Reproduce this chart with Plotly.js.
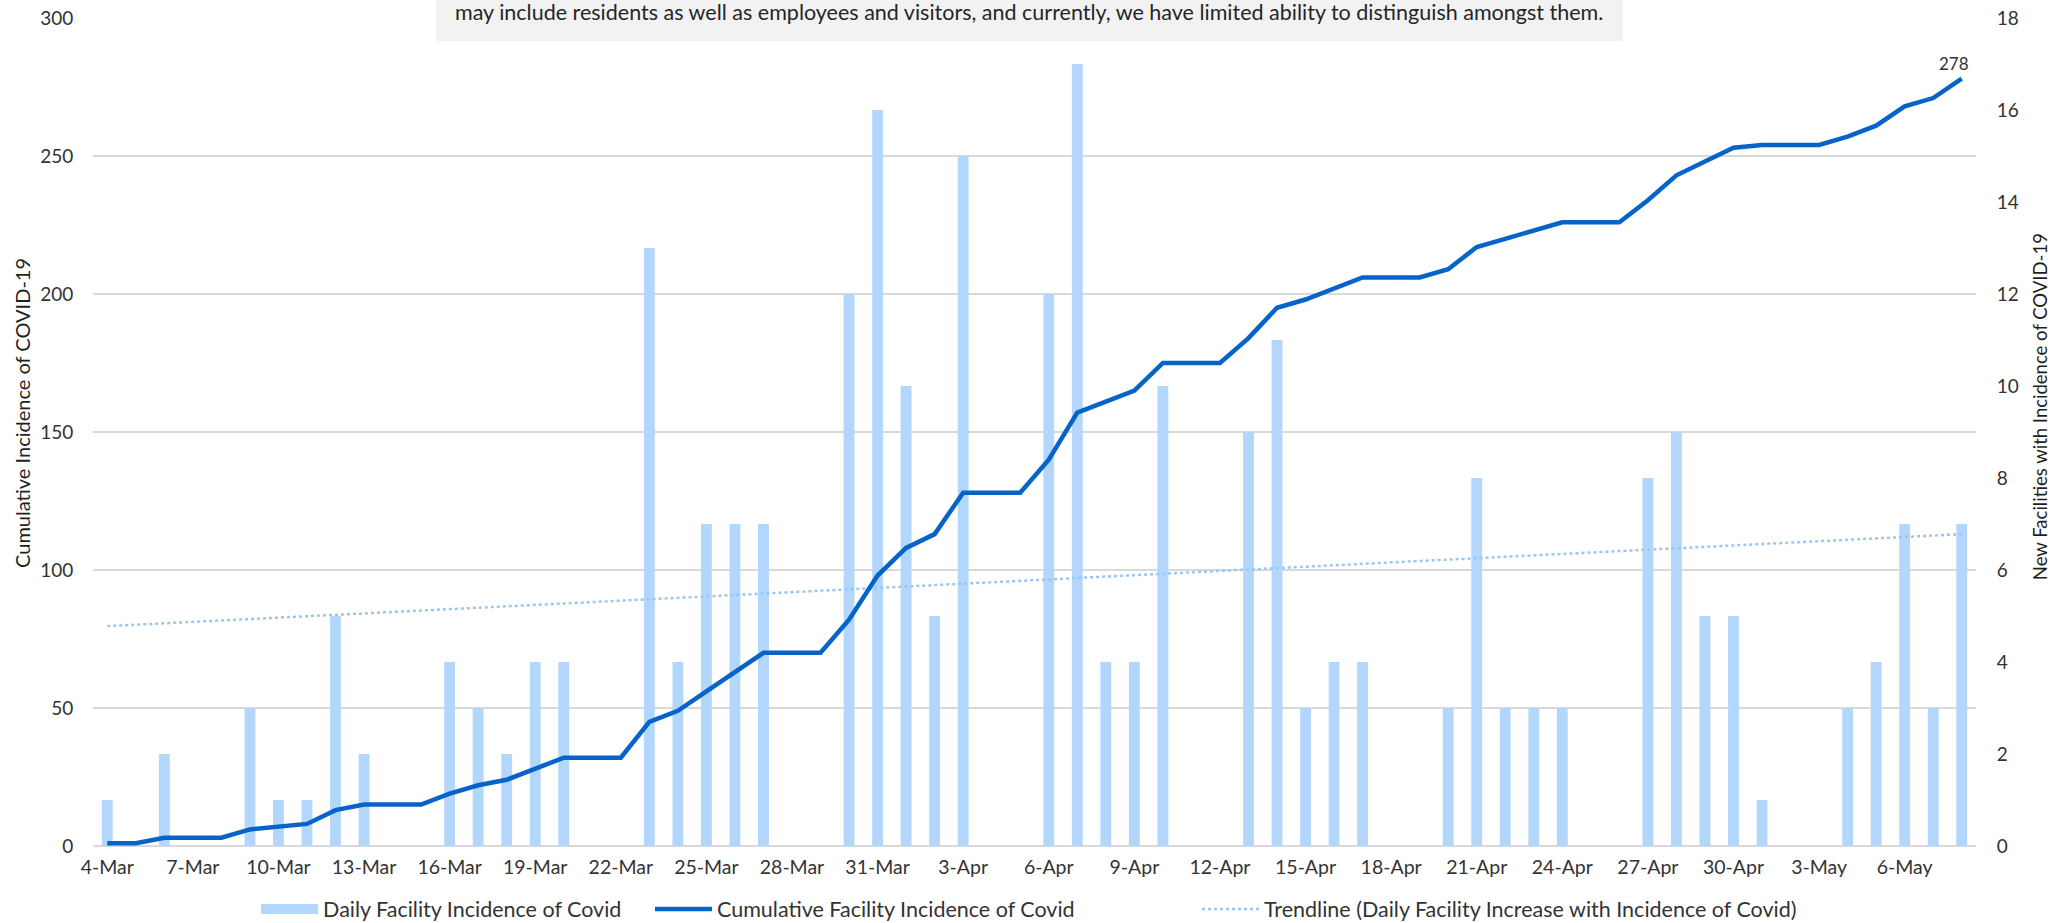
<!DOCTYPE html>
<html>
<head>
<meta charset="utf-8">
<script src="https://cdn.plot.ly/plotly-3.0.1.min.js"></script>
<style>
  html, body { margin: 0; padding: 0; background: #ffffff; }
  #chart { width: 2066px; height: 923px; }
</style>
</head>
<body>
<div id="chart"></div>
<script>
// ---- Data ----
const dates = [
  "4-Mar","5-Mar","6-Mar","7-Mar","8-Mar","9-Mar","10-Mar","11-Mar","12-Mar","13-Mar",
  "14-Mar","15-Mar","16-Mar","17-Mar","18-Mar","19-Mar","20-Mar","21-Mar","22-Mar","23-Mar",
  "24-Mar","25-Mar","26-Mar","27-Mar","28-Mar","29-Mar","30-Mar","31-Mar",
  "1-Apr","2-Apr","3-Apr","4-Apr","5-Apr","6-Apr","7-Apr","8-Apr","9-Apr","10-Apr",
  "11-Apr","12-Apr","13-Apr","14-Apr","15-Apr","16-Apr","17-Apr","18-Apr","19-Apr","20-Apr",
  "21-Apr","22-Apr","23-Apr","24-Apr","25-Apr","26-Apr","27-Apr","28-Apr","29-Apr","30-Apr",
  "1-May","2-May","3-May","4-May","5-May","6-May","7-May","8-May"
];

const dailyNew = [
  1,0,2,0,0,3,1,1,5,2,
  0,0,4,3,2,4,4,0,0,13,
  4,7,7,7,0,0,12,16,
  10,5,15,0,0,12,17,4,4,10,
  0,0,9,11,3,4,4,0,0,3,
  8,3,3,3,0,0,8,9,5,5,
  1,0,0,3,4,7,3,7
];

const cumulative = [
  1,1,3,3,3,6,7,8,13,15,
  15,15,19,22,24,28,32,32,32,45,
  49,56,63,70,70,70,82,98,
  108,113,128,128,128,140,157,161,165,175,
  175,175,184,195,198,202,206,206,206,209,
  217,220,223,226,226,226,234,243,248,253,
  254,254,254,257,261,268,271,278
];

const trendDates = ["4-Mar", "8-May"];
const trendValues = [4.78, 6.78];

const xTickLabels = [
  "4-Mar","7-Mar","10-Mar","13-Mar","16-Mar","19-Mar","22-Mar","25-Mar","28-Mar","31-Mar",
  "3-Apr","6-Apr","9-Apr","12-Apr","15-Apr","18-Apr","21-Apr","24-Apr","27-Apr","30-Apr",
  "3-May","6-May"
];

const seriesNames = [
  "Daily Facility Incidence of Covid",
  "Cumulative Facility Incidence of Covid",
  "Trendline (Daily Facility Increase with Incidence of Covid)"
];
const leftTitle = "Cumulative Incidence of COVID-19";
const rightTitle = "New Facilities with Incidence of COVID-19";
const lastLabel = "278";
const noteText = "may include residents as well as employees and visitors, and currently, we have limited ability to distinguish amongst them.";

// ---- Styles ----
const FONT = "Lato, 'Liberation Sans', Arial, sans-serif";
const TXT = "#333333";
const BAR = "#b3d6fc";
const LINE = "#0563c9";
const TREND = "#9cc6f2";

const traces = [
  {
    type: "bar",
    name: seriesNames[0],
    x: dates,
    y: dailyNew,
    yaxis: "y",
    marker: { color: BAR },
    showlegend: false,
    legendgroup: "daily",
    hoverinfo: "x+y"
  },
  {
    type: "scatter",
    mode: "lines",
    name: seriesNames[2],
    x: trendDates,
    y: trendValues,
    yaxis: "y",
    line: { color: TREND, width: 2.5, dash: "dot" },
    legend: "legend3"
  },
  {
    type: "scatter",
    mode: "lines",
    name: seriesNames[1],
    x: dates,
    y: cumulative,
    yaxis: "y2",
    line: { color: LINE, width: 4.5 },
    legend: "legend2"
  },
  {
    // legend key only (wide swatch like the reference legend); holds no drawable point
    type: "scatter",
    mode: "lines",
    name: seriesNames[0],
    x: [null],
    y: [null],
    yaxis: "y",
    line: { color: BAR, width: 13 },
    legendgroup: "daily",
    legend: "legend",
    hoverinfo: "skip"
  }
];

function legendAt(x) {
  return {
    orientation: "h",
    x: x, xanchor: "left",
    y: -0.076, yanchor: "middle",
    font: { family: FONT, size: 21.5, color: TXT },
    itemwidth: 57,
    bgcolor: "rgba(0,0,0,0)",
    borderwidth: 0,
    itemclick: false,
    itemdoubleclick: false
  };
}

const layout = {
  width: 2066,
  height: 923,
  margin: { l: 93, r: 90, t: 18, b: 77, pad: 0, autoexpand: false },
  paper_bgcolor: "#ffffff",
  plot_bgcolor: "rgba(0,0,0,0)",
  font: { family: FONT, size: 19, color: TXT },
  bargap: 0.62,
  showlegend: true,
  legend: legendAt(0.0866),
  legend2: legendAt(0.2958),
  legend3: legendAt(0.5863),
  xaxis: {
    type: "category",
    range: [-0.5, 65.5],
    tickmode: "array",
    tickvals: xTickLabels,
    ticktext: xTickLabels,
    showgrid: false,
    zeroline: false,
    showline: false,
    ticks: "outside",
    ticklen: 4,
    tickcolor: "rgba(0,0,0,0)",
    tickangle: 0,
    tickfont: { family: FONT, size: 19.5, color: TXT },
    fixedrange: true
  },
  yaxis: {
    side: "right",
    range: [0, 18],
    dtick: 2,
    tick0: 0,
    showgrid: false,
    zeroline: false,
    showline: false,
    ticks: "outside",
    ticklen: 16,
    tickcolor: "rgba(0,0,0,0)",
    tickfont: { family: FONT, size: 19, color: TXT },
    fixedrange: true
  },
  yaxis2: {
    overlaying: "y",
    side: "left",
    anchor: "x",
    range: [0, 300],
    dtick: 50,
    tick0: 0,
    showgrid: true,
    gridcolor: "#d9d9d9",
    gridwidth: 1.5,
    zeroline: true,
    zerolinecolor: "#d9d9d9",
    zerolinewidth: 1.5,
    showline: false,
    ticks: "outside",
    ticklen: 15,
    tickcolor: "rgba(0,0,0,0)",
    tickfont: { family: FONT, size: 19, color: TXT },
    fixedrange: true
  },
  shapes: [
    {
      type: "rect", xref: "paper", yref: "paper",
      x0: 0.1822, x1: 0.8125, y0: 0.9722, y1: 1.03,
      fillcolor: "#f2f2f2", line: { width: 0 }, layer: "above"
    }
  ],
  annotations: [
    {
      xref: "paper", yref: "paper",
      x: 0.191, y: 1.0072,
      xanchor: "left", yanchor: "middle",
      text: noteText, showarrow: false,
      font: { family: FONT, size: 21.5, color: "#262626" }
    },
    {
      xref: "paper", yref: "paper",
      x: -0.0377, y: 0.523,
      xanchor: "center", yanchor: "middle",
      textangle: -90,
      text: leftTitle, showarrow: false,
      font: { family: FONT, size: 20, color: "#1f1f1f" }
    },
    {
      xref: "paper", yref: "paper",
      x: 1.034, y: 0.53,
      xanchor: "center", yanchor: "middle",
      textangle: -90,
      text: rightTitle, showarrow: false,
      font: { family: FONT, size: 18.5, color: "#1f1f1f" }
    },
    {
      xref: "x", yref: "y2",
      x: dates[dates.length - 1], y: cumulative[cumulative.length - 1],
      text: lastLabel, showarrow: false,
      xshift: -8, yshift: 15,
      font: { family: FONT, size: 17, color: TXT }
    }
  ]
};

Plotly.newPlot("chart", traces, layout, { displayModeBar: false, responsive: false });
</script>
</body>
</html>
